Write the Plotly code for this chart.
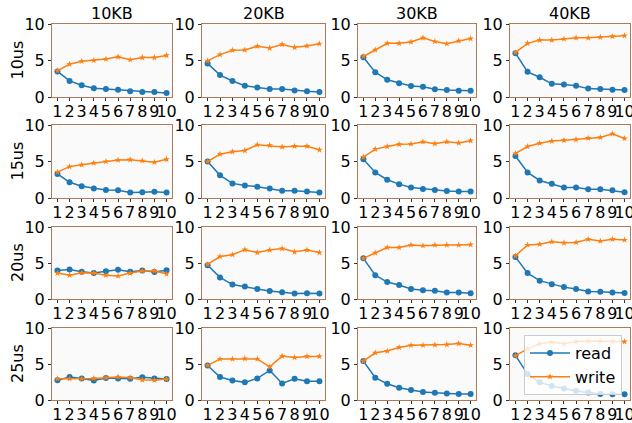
import plotly.graph_objects as go

x_vals = [1, 2, 3, 4, 5, 6, 7, 8, 9, 10]
col_titles = ["10KB", "20KB", "30KB", "40KB"]
row_titles = ["10us", "15us", "20us", "25us"]

# read values [row][col]
read_10us_10KB = [3.5, 2.2, 1.6, 1.2, 1.1, 1.0, 0.8, 0.7, 0.7, 0.55]
read_10us_20KB = [4.6, 3.0, 2.2, 1.55, 1.3, 1.1, 1.1, 0.9, 0.8, 0.7]
read_10us_30KB = [5.45, 3.4, 2.35, 1.9, 1.5, 1.4, 1.05, 0.95, 0.85, 0.85]
read_10us_40KB = [6.0, 3.45, 2.7, 1.8, 1.7, 1.55, 1.15, 1.1, 1.0, 0.95]
read_15us_10KB = [3.3, 2.15, 1.6, 1.3, 1.1, 1.05, 0.75, 0.8, 0.85, 0.75]
read_15us_20KB = [5.0, 3.1, 2.0, 1.7, 1.55, 1.3, 1.0, 1.0, 0.9, 0.75]
read_15us_30KB = [5.3, 3.5, 2.5, 1.9, 1.45, 1.25, 1.1, 0.95, 0.9, 0.9]
read_15us_40KB = [5.75, 3.5, 2.4, 1.95, 1.45, 1.45, 1.2, 1.2, 1.05, 0.8]
read_20us_10KB = [3.95, 4.1, 3.8, 3.6, 3.85, 4.05, 3.8, 3.95, 3.75, 4.0]
read_20us_20KB = [4.7, 3.0, 2.0, 1.75, 1.4, 1.1, 0.95, 0.75, 0.8, 0.75]
read_20us_30KB = [5.65, 3.3, 2.35, 1.95, 1.4, 1.2, 1.15, 0.9, 0.9, 0.8]
read_20us_40KB = [5.85, 3.6, 2.55, 2.05, 1.65, 1.4, 1.05, 1.0, 0.9, 0.85]
read_25us_10KB = [2.75, 3.2, 3.0, 2.7, 3.05, 3.0, 2.95, 3.15, 3.0, 2.9]
read_25us_20KB = [4.8, 3.2, 2.7, 2.45, 3.0, 4.1, 2.3, 2.95, 2.6, 2.6]
read_25us_30KB = [5.4, 3.1, 2.25, 1.7, 1.4, 1.1, 1.0, 0.9, 0.85, 0.85]
read_25us_40KB = [6.2, 3.6, 2.45, 1.95, 1.6, 1.25, 1.05, 0.85, 0.8, 0.8]

# write values [row][col]
write_10us_10KB = [3.6, 4.5, 4.9, 5.0, 5.2, 5.5, 5.1, 5.4, 5.4, 5.7]
write_10us_20KB = [4.95, 5.8, 6.4, 6.45, 6.95, 6.7, 7.2, 6.8, 7.0, 7.3]
write_10us_30KB = [5.55, 6.45, 7.35, 7.35, 7.55, 8.1, 7.6, 7.3, 7.7, 8.0]
write_10us_40KB = [6.1, 7.35, 7.8, 7.8, 7.95, 8.1, 8.1, 8.2, 8.3, 8.4]
write_15us_10KB = [3.55, 4.3, 4.55, 4.8, 5.0, 5.2, 5.25, 5.1, 4.9, 5.3]
write_15us_20KB = [5.0, 6.0, 6.35, 6.5, 7.3, 7.2, 7.0, 7.1, 7.1, 6.6]
write_15us_30KB = [5.6, 6.7, 7.05, 7.35, 7.4, 7.7, 7.45, 7.7, 7.55, 7.85]
write_15us_40KB = [6.1, 7.05, 7.5, 7.8, 7.9, 8.0, 8.2, 8.3, 8.8, 8.15]
write_20us_10KB = [3.6, 3.3, 3.65, 3.6, 3.3, 3.2, 3.6, 3.9, 3.9, 3.5]
write_20us_20KB = [4.8, 5.9, 6.15, 6.85, 6.45, 6.8, 7.0, 6.55, 6.8, 6.45]
write_20us_30KB = [5.65, 6.4, 7.15, 7.15, 7.5, 7.4, 7.5, 7.5, 7.5, 7.55]
write_20us_40KB = [6.0, 7.5, 7.6, 7.95, 7.8, 7.85, 8.3, 8.05, 8.3, 8.2]
write_25us_10KB = [2.95, 2.95, 2.95, 3.0, 3.1, 3.2, 3.1, 2.8, 2.75, 2.9]
write_25us_20KB = [4.8, 5.7, 5.7, 5.75, 5.7, 4.6, 6.1, 5.9, 6.05, 6.05]
write_25us_30KB = [5.4, 6.55, 6.8, 7.3, 7.6, 7.6, 7.65, 7.7, 7.85, 7.6]
write_25us_40KB = [6.15, 7.1, 7.8, 8.05, 7.8, 8.1, 8.2, 8.2, 8.1, 8.1]

read_data = [
    [read_10us_10KB, read_10us_20KB, read_10us_30KB, read_10us_40KB],
    [read_15us_10KB, read_15us_20KB, read_15us_30KB, read_15us_40KB],
    [read_20us_10KB, read_20us_20KB, read_20us_30KB, read_20us_40KB],
    [read_25us_10KB, read_25us_20KB, read_25us_30KB, read_25us_40KB],
]
write_data = [
    [write_10us_10KB, write_10us_20KB, write_10us_30KB, write_10us_40KB],
    [write_15us_10KB, write_15us_20KB, write_15us_30KB, write_15us_40KB],
    [write_20us_10KB, write_20us_20KB, write_20us_30KB, write_20us_40KB],
    [write_25us_10KB, write_25us_20KB, write_25us_30KB, write_25us_40KB],
]

W, H = 632, 423
col_px = [(52, 172), (202, 325), (358, 476), (510, 630)]
row_px = [(24, 97), (125, 198), (227, 299), (328, 400)]

BLUE = "#1f77b4"
ORANGE = "#ff7f0e"
SPINE = "#b07a5a"
FONT = "DejaVu Sans"
FS = 16

fig = go.Figure()
layout = {}
annotations = []

for r in range(4):
    for c in range(4):
        i = r * 4 + c + 1
        xa = "x" if i == 1 else f"x{i}"
        ya = "y" if i == 1 else f"y{i}"
        show = (r == 3 and c == 3)
        fig.add_trace(go.Scatter(
            x=x_vals, y=read_data[r][c], mode="lines+markers", name="read",
            line=dict(color=BLUE, width=1.5), marker=dict(symbol="circle", size=6, color=BLUE),
            xaxis=xa, yaxis=ya, showlegend=show))
        fig.add_trace(go.Scatter(
            x=x_vals, y=write_data[r][c], mode="lines+markers", name="write",
            line=dict(color=ORANGE, width=1.5), marker=dict(symbol="star", size=5, color=ORANGE, line=dict(width=0)),
            xaxis=xa, yaxis=ya, showlegend=show))
        x0, x1 = col_px[c]
        y0, y1 = row_px[r]
        common = dict(showgrid=False, zeroline=False, showline=True, linecolor=SPINE,
                      linewidth=1, mirror=True, ticks="outside", ticklen=3, tickwidth=1,
                      tickcolor="#333333", automargin=False, ticklabeloverflow="allow",
                      tickfont=dict(family=FONT, size=FS, color="black"))
        layout[f"xaxis{i}"] = dict(domain=[x0 / W, x1 / W], anchor=ya, range=[0.55, 10.45],
                                   tickmode="array", tickvals=x_vals, ticklabelstandoff=-3,
                                   ticktext=[str(v) for v in x_vals], tickangle=0, **common)
        layout[f"yaxis{i}"] = dict(domain=[1 - y1 / H, 1 - y0 / H], anchor=xa, range=[0, 10],
                                   tickmode="array", tickvals=[0, 5, 10], **common)

for c, t in enumerate(col_titles):
    x0, x1 = col_px[c]
    annotations.append(dict(text=t, x=(x0 + x1) / 2 / W, y=1 - 13 / H, xref="paper", yref="paper",
                            showarrow=False, font=dict(family=FONT, size=FS, color="black"),
                            xanchor="center", yanchor="middle"))
for r, t in enumerate(row_titles):
    y0, y1 = row_px[r]
    annotations.append(dict(text=t, x=17 / W, y=1 - (y0 + y1) / 2 / H, xref="paper", yref="paper",
                            showarrow=False, textangle=-90, font=dict(family=FONT, size=FS, color="black"),
                            xanchor="center", yanchor="middle"))

fig.update_layout(
    width=W, height=H, margin=dict(l=0, r=0, t=0, b=0, autoexpand=False),
    paper_bgcolor="white", plot_bgcolor="#fafafa",
    annotations=annotations,
    legend=dict(x=524 / W, y=1 - 335 / H, xanchor="left", yanchor="top",
                bgcolor="rgba(255,255,255,0.8)", bordercolor="#cccccc", borderwidth=1,
                font=dict(family=FONT, size=FS, color="black"), itemwidth=40,
                tracegroupgap=0),
    **layout,
)

fig.write_html("out.html", config={"displayModeBar": False},
               post_script="document.body.style.margin='0';document.body.style.overflow='hidden';")
